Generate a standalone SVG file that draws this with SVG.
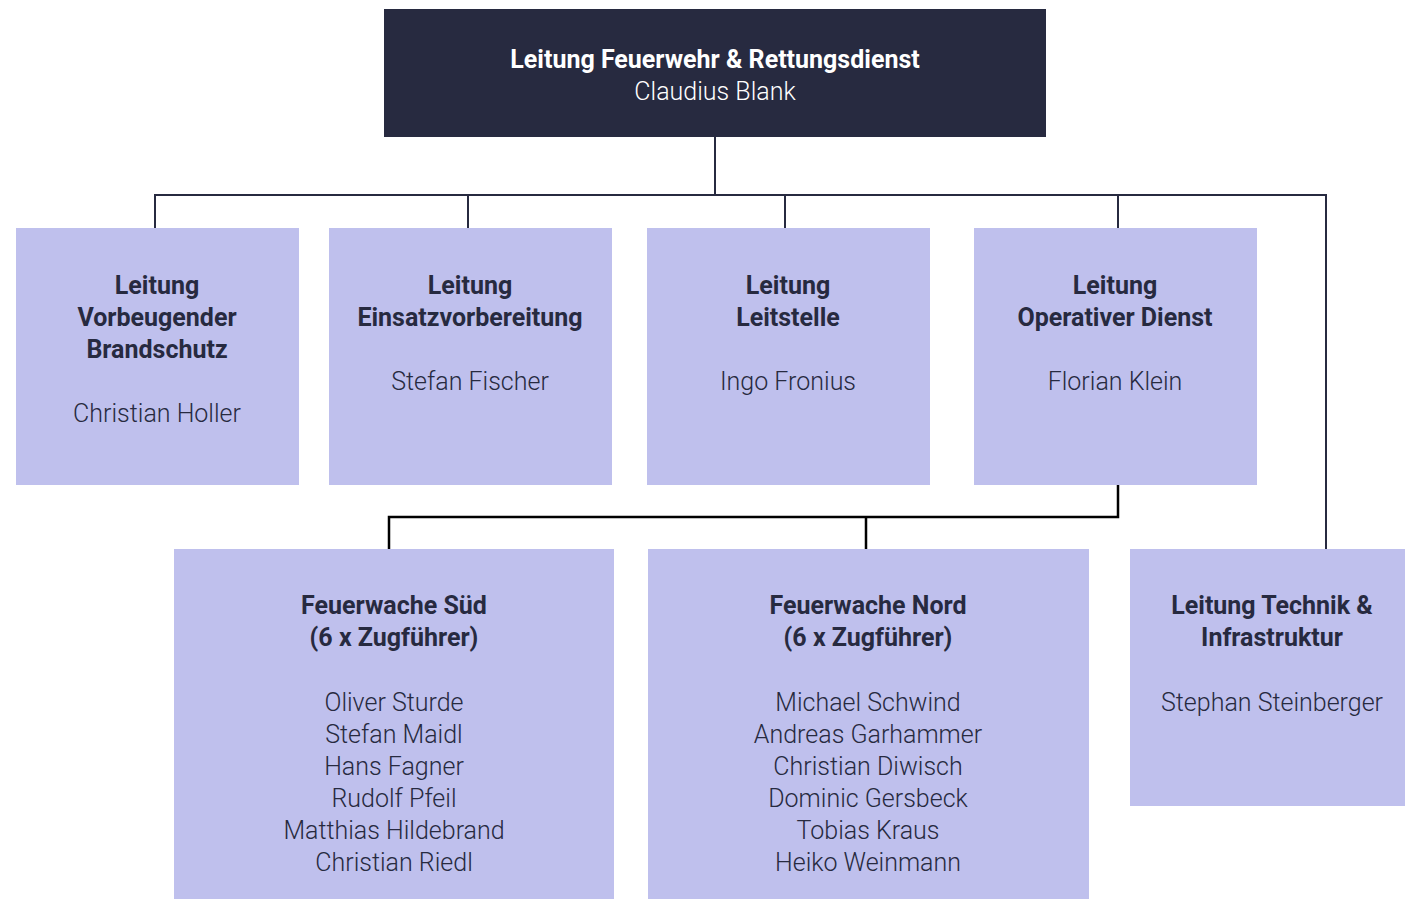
<svg xmlns="http://www.w3.org/2000/svg" width="1405" height="899" viewBox="0 0 1405 899">
<style>
.box{fill:#bfc0ed}
.top{fill:#272a40}
text{font-family:Roboto,"Liberation Sans",sans-serif;font-size:25px;text-anchor:middle;fill:#272a40;font-weight:300}
.b{font-weight:bold}
.w{fill:#ffffff}
.c1{fill:none;stroke:#272a40;stroke-width:2}
.c2{fill:none;stroke:#000000;stroke-width:2.5}
</style>
<rect width="1405" height="899" fill="#ffffff"/>
<g id="connectors">
<path class="c1" d="M715 137V195M155 228V195H1326V549M468 195V228M785 195V228M1118 195V228"/>
<path class="c2" d="M1118 485V517H389V549M866 517V549"/>
</g>
<g id="n0">
<rect class="top" x="384" y="9" width="662" height="128"/>
<text class="b w" x="715" y="68">Leitung Feuerwehr &amp; Rettungsdienst</text>
<text class="w" x="715" y="100">Claudius Blank</text>
</g>
<g id="n1">
<rect class="box" x="16" y="228" width="283" height="257"/>
<text class="b" x="157" y="294">Leitung</text>
<text class="b" x="157" y="326">Vorbeugender</text>
<text class="b" x="157" y="358">Brandschutz</text>
<text x="157" y="422">Christian Holler</text>
</g>
<g id="n2">
<rect class="box" x="329" y="228" width="283" height="257"/>
<text class="b" x="470" y="294">Leitung</text>
<text class="b" x="470" y="326">Einsatzvorbereitung</text>
<text x="470" y="390">Stefan Fischer</text>
</g>
<g id="n3">
<rect class="box" x="647" y="228" width="283" height="257"/>
<text class="b" x="788" y="294">Leitung</text>
<text class="b" x="788" y="326">Leitstelle</text>
<text x="788" y="390">Ingo Fronius</text>
</g>
<g id="n4">
<rect class="box" x="974" y="228" width="283" height="257"/>
<text class="b" x="1115" y="294">Leitung</text>
<text class="b" x="1115" y="326">Operativer Dienst</text>
<text x="1115" y="390">Florian Klein</text>
</g>
<g id="n5">
<rect class="box" x="174" y="549" width="440" height="350"/>
<text class="b" x="394" y="614">Feuerwache Süd</text>
<text class="b" x="394" y="646">(6 x Zugführer)</text>
<text x="394" y="711">Oliver Sturde</text>
<text x="394" y="743">Stefan Maidl</text>
<text x="394" y="775">Hans Fagner</text>
<text x="394" y="807">Rudolf Pfeil</text>
<text x="394" y="839">Matthias Hildebrand</text>
<text x="394" y="871">Christian Riedl</text>
</g>
<g id="n6">
<rect class="box" x="648" y="549" width="441" height="350"/>
<text class="b" x="868" y="614">Feuerwache Nord</text>
<text class="b" x="868" y="646">(6 x Zugführer)</text>
<text x="868" y="711">Michael Schwind</text>
<text x="868" y="743">Andreas Garhammer</text>
<text x="868" y="775">Christian Diwisch</text>
<text x="868" y="807">Dominic Gersbeck</text>
<text x="868" y="839">Tobias Kraus</text>
<text x="868" y="871">Heiko Weinmann</text>
</g>
<g id="n7">
<rect class="box" x="1130" y="549" width="284" height="257"/>
<text class="b" x="1272" y="614">Leitung Technik &amp;</text>
<text class="b" x="1272" y="646">Infrastruktur</text>
<text x="1272" y="711">Stephan Steinberger</text>
</g>
</svg>
